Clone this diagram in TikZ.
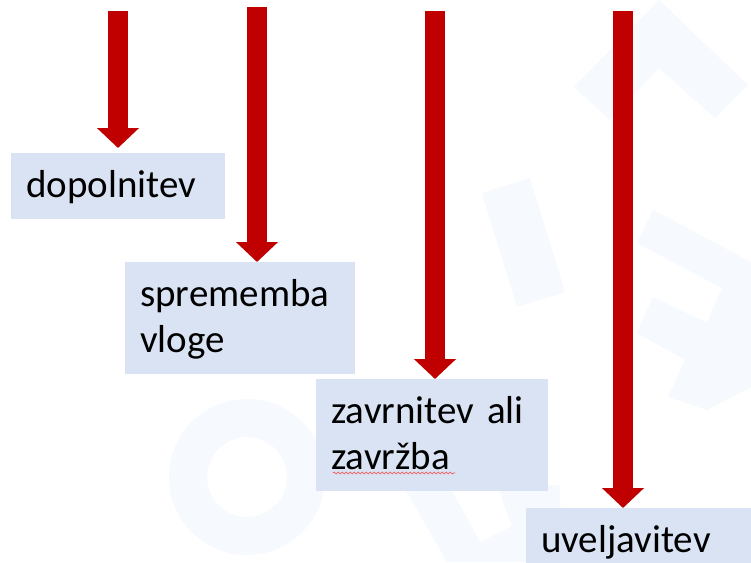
\documentclass[tikz,border=0pt]{standalone}
\usepackage{fontspec}
\setmainfont{Carlito}
\usetikzlibrary{arrows.meta,calc,decorations.pathmorphing}
\definecolor{arrowred}{HTML}{C00000}
\definecolor{boxblue}{HTML}{DAE3F3}
\definecolor{wm}{HTML}{F6F9FD}
\definecolor{spellred}{HTML}{F04848}
\newcommand{\mystrut}{\rule[-12pt]{0pt}{46pt}}
\begin{document}
\begin{tikzpicture}[x=1pt,y=-1pt,
  lbl/.style={draw=none, fill=boxblue, anchor=north west, inner xsep=15pt, inner ysep=10pt,
              align=left, font=\fontsize{39}{46}\selectfont, text=black},
  redarrow/.style={draw=arrowred, line width=20pt, -{Triangle[length=20pt,width=41pt,fill=arrowred]}},
  wmark/.style={fill=wm, draw=none},
  spell/.style={draw=spellred, line width=0.6pt, decorate,
                decoration={snake, amplitude=0.9pt, segment length=4pt}}]
\clip (0,0) rectangle (751,562);
\fill[white] (0,0) rectangle (751,562);
% faint background watermark
\fill[wmark, even odd rule] (247,477) circle (78pt) (247,477) circle (40pt);
\fill[wmark] (574,87) -- (659,0) -- (748,85) -- (715,118) -- (659,68) -- (610,120) -- cycle;
\fill[wmark] (482,193) -- (530,178) -- (565,292) -- (517,307) -- cycle;
\fill[wmark] (653,210) -- (751,262) -- (751,387) -- (707,410) -- (668,397) -- (685,360)
  -- (637,333) -- (653,297) -- (707,323) -- (722,288) -- (637,243) -- cycle;
\fill[wmark] (403,485) -- (449,485) -- (480,542) -- (512,526) -- (497,485) -- (560,485)
  -- (560,562) -- (447,562) -- cycle;
% boxes
\node[lbl, text width=184pt, minimum height=63pt] (b1) at (11,153) {\mystrut dopolnitev};
\node[lbl, text width=200pt] (b2) at (125,262) {\mystrut sprememba\\\mystrut vloge};
\node[lbl, text width=202pt] (b3) at (316,379) {\mystrut zavrnitev ali\\\mystrut zavržba};
\node[lbl, text width=210pt] (b4) at (526,508) {\mystrut uveljavitev};
% arrow starts
\coordinate (a1) at (118,11);
\coordinate (a2) at (257,7);
\coordinate (a3) at (435,11);
\coordinate (a4) at (623,11);
% arrows
\draw[redarrow, shorten >=5pt] (a1) -- (a1 |- b1.north);
\draw[redarrow] (a2) -- (a2 |- b2.north);
\draw[redarrow] (a3) -- (a3 |- b3.north);
\draw[redarrow] (a4) -- (a4 |- b4.north);
% spell-check underline
\draw[spell] ($(b3.north west)+(17,94)$) -- ($(b3.north west)+(139,94)$);
\end{tikzpicture}
\end{document}
